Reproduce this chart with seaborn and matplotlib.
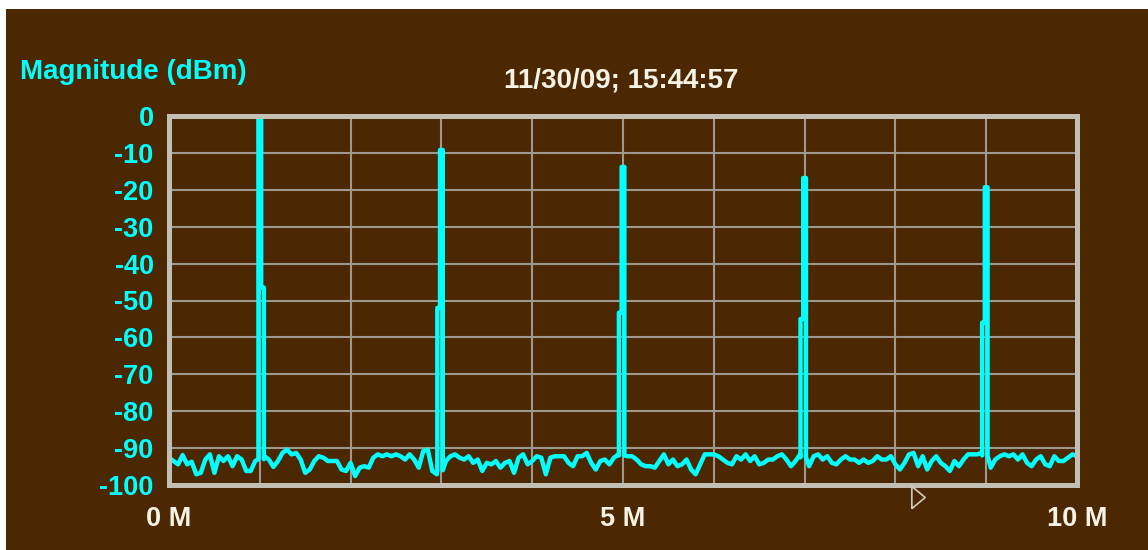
import numpy as np
import pandas as pd
import matplotlib
matplotlib.use("Agg")
import matplotlib.pyplot as plt
from matplotlib.patches import Rectangle
import seaborn as sns

# ---- data -------------------------------------------------------------
# Spectrum noise floor (dBm), sampled every 0.05 MHz from 0 to 10 MHz
noise_dbm = [
    -92.6, -93.5, -94.4, -91.9, -94.4, -93.7, -97.1, -96.7, -93.1, -91.7,
    -96.7, -92.2, -93.5, -92.2, -94.9, -92.2, -93.1, -96.2, -96.2, -93.5,
    -93.0,
    -92.2, -93.1, -95.1, -93.5, -91.3, -90.4, -91.7, -91.3, -93.1, -96.7,
    -95.8, -93.5, -92.2, -92.6, -93.5, -93.5, -93.5, -95.8, -96.2,
    -94.0, -97.6, -95.3, -94.9, -95.3, -92.6, -91.7, -92.2, -91.7, -92.2,
    -91.7, -92.2, -93.1, -91.7, -93.1, -95.3, -90.8, -90.4, -96.2, -97.1,
    -96.0,
    -93.5, -92.2, -91.7, -92.6, -93.1, -92.2, -94.0, -93.1, -96.2, -94.0,
    -94.4, -93.5, -95.3, -94.0, -93.5, -96.7, -92.6, -91.7, -94.4,
    -93.5, -92.2, -92.6, -97.1, -92.6, -92.2, -92.2, -92.2, -94.0, -94.9,
    -92.2, -92.2, -91.3, -94.0, -95.8, -93.5, -93.1, -94.4, -92.6, -91.7,
    -92.0,
    -92.2, -92.2, -93.1, -94.4, -94.9, -94.9, -95.3, -93.5, -91.7, -94.4,
    -93.1, -94.9, -94.4, -93.1, -95.8, -97.1, -94.4, -91.7, -91.7,
    -91.7, -92.2, -93.1, -94.0, -94.4, -92.2, -93.1, -91.7, -93.5, -92.2,
    -94.4, -94.0, -93.1, -93.1, -92.2, -91.7, -93.1, -94.9, -93.5, -91.7,
    -92.5,
    -94.9, -92.2, -91.7, -93.1, -92.2, -94.0, -94.4, -93.1, -92.2, -93.1,
    -93.1, -94.0, -93.1, -94.0, -93.5, -92.2, -93.1, -93.1, -92.2,
    -94.4, -95.8, -94.0, -91.7, -91.3, -94.9, -92.2, -95.8, -93.5, -92.2,
    -94.0, -94.9, -96.2, -93.5, -94.9, -93.1, -91.7, -91.7, -91.7, -91.3,
    -92.0,
    -95.3, -93.1, -92.2, -91.7, -92.2, -91.7, -93.1, -91.7, -94.0, -94.9,
    -93.1, -92.2, -94.4, -94.9, -92.2, -93.5, -93.5, -92.6, -91.7, -92.2,
]
freq_step_mhz = 0.05

# Harmonic tones and their close-in sidebands
tone_freq_mhz = [1.0, 3.0, 5.0, 7.0, 9.0]
tone_level_dbm = [0.0, -9.2, -13.8, -16.8, -19.3]
sideband_freq_mhz = [1.045, 2.955, 4.955, 6.955, 8.955]
sideband_level_dbm = [-46.5, -52.0, -53.3, -55.0, -56.0]

y_ticks = list(range(0, -101, -10))
x_ticks = list(range(0, 11))
x_tick_labels = {0: "0 M", 5: "5 M", 10: "10 M"}
timestamp = "11/30/09; 15:44:57"
y_title = "Magnitude (dBm)"

# ---- build the trace --------------------------------------------------
half_w = 0.015  # half width of a tone's flat top (MHz)
freqs, levels = [], []
grid = np.round(np.arange(len(noise_dbm)) * freq_step_mhz, 2)
for f, base in zip(grid, noise_dbm):
    if f in tone_freq_mhz:
        k = tone_freq_mhz.index(f)
        pk, sf, sl = tone_level_dbm[k], sideband_freq_mhz[k], sideband_level_dbm[k]
        if sf < f:
            pts = [(sf, base), (sf, sl), (f - half_w, sl), (f - half_w, pk),
                   (f + half_w, pk), (f + half_w, base)]
        else:
            pts = [(f - half_w, base), (f - half_w, pk), (f + half_w, pk),
                   (f + half_w, sl), (sf, sl), (sf, base)]
        for a, b in pts:
            freqs.append(a)
            levels.append(b)
    else:
        freqs.append(f)
        levels.append(base)

trace = pd.DataFrame({"freq": freqs, "level": levels})

# ---- styling ----------------------------------------------------------
W, H = 1148, 550
bg = "#4b2801"
cyan = "#00ffff"
cream = "#f6f2e6"
frame = "#c3bfb5"
gridc = "#9f988e"
plt.rcParams["font.family"] = ["Liberation Sans", "DejaVu Sans"]

fig = plt.figure(figsize=(W / 100, H / 100), dpi=100, facecolor="white")
fig.patches.append(Rectangle((6 / W, 0), 1, (H - 9) / H, transform=fig.transFigure,
                             facecolor=bg, edgecolor="none", zorder=-10))

ax = fig.add_axes([169 / W, 65 / H, 908 / W, 369 / H])
ax.set_facecolor(bg)

sns.lineplot(data=trace, x="freq", y="level", ax=ax, sort=False, estimator=None,
             color=cyan, linewidth=3.2, legend=False, zorder=3)

ax.set_xlim(0, 10)
ax.set_ylim(-100, 0)
ax.set_xticks(x_ticks)
ax.set_xticklabels([x_tick_labels.get(t, "") for t in x_ticks])
ax.set_yticks(y_ticks)
ax.set_yticklabels([str(t) for t in y_ticks])
ax.tick_params(axis="both", length=0)
ax.tick_params(axis="y", colors=cyan, labelsize=19.5, pad=11)
ax.tick_params(axis="x", colors=cream, labelsize=19.5, pad=15)
for lab in ax.get_xticklabels() + ax.get_yticklabels():
    lab.set_fontweight("bold")
ax.set_xlabel("")
ax.set_ylabel("")
ax.grid(True, color=gridc, linewidth=1.5, zorder=1)
ax.set_axisbelow(True)
for s in ax.spines.values():
    s.set_color(frame)
    s.set_linewidth(3.6)
    s.set_zorder(4)

# cursor marker below the frequency axis
cursor = [(-0.6, -1.0), (0.6, 0.0), (-0.6, 1.0), (-0.6, -1.0)]
ax.plot([8.25], [-103.3], marker=cursor, markersize=16, markerfacecolor=bg,
        markeredgecolor="#cfcbc2", markeredgewidth=1.2, clip_on=False, zorder=5)

fig.text(621 / W, 1 - 81 / H, timestamp, color=cream, fontsize=20,
         fontweight="bold", ha="center", va="center")
fig.text(20 / W, 1 - 72 / H, y_title, color=cyan, fontsize=20,
         fontweight="bold", ha="left", va="center")

fig.savefig("out.png", dpi=100, facecolor=fig.get_facecolor())
